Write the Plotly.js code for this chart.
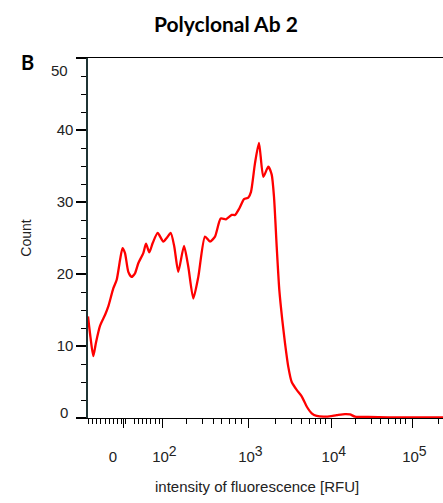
<!DOCTYPE html>
<html>
<head>
<meta charset="utf-8">
<script src="https://cdn.plot.ly/plotly-3.0.1.min.js"></script>
<style>html,body{margin:0;padding:0;background:#fff;}#chart{width:443px;height:503px;}</style>
</head>
<body>
<div id="chart"></div>
<script>
// Display channel on the (logicle-like) fluorescence axis, and cell count
const channel = [0, 2.5, 5.3, 8, 12, 17, 20.3, 25.3, 28.7, 32, 34.5, 37, 40.3, 43.5, 47, 50.3, 55.3, 58, 61.3, 64.7, 69.7, 75.3, 78.7, 82.7, 86.3, 90.3, 96, 100.3, 105.3, 110.3, 117, 122, 127, 132.7, 138, 143.7, 147, 151.3, 156, 160.3, 163, 167, 171, 175.3, 180.3, 183.7, 186, 188.7, 191.3, 194.3, 197, 200.3, 203.7, 208.7, 213.7, 218.7, 223.7, 228.7, 238.7, 248.7, 257, 262, 267, 280, 300, 355];
const count = [14.1, 11.2, 8.6, 10.5, 12.8, 14.3, 15.5, 18.0, 19.2, 21.9, 23.6, 22.9, 20.3, 19.6, 20.1, 21.5, 22.9, 24.2, 23.0, 24.3, 25.7, 24.5, 25.0, 25.7, 23.8, 20.3, 23.9, 21.0, 16.6, 19.6, 25.2, 24.5, 25.2, 27.7, 27.6, 28.2, 28.2, 29.1, 30.4, 30.6, 31.4, 35.4, 38.2, 33.5, 34.9, 33.8, 30.7, 23.8, 17.8, 13.6, 10.4, 7.1, 5.0, 3.9, 3.0, 1.6, 0.65, 0.28, 0.2, 0.4, 0.55, 0.5, 0.2, 0.15, 0.1, 0.1];

// Axis ticks
const xMajorVals = [35.3, 74.3, 160.3, 243.7, 324.3];
const supSpan = (d) => '&nbsp;10<sup><span style="font-size:14px">' + d + '</span></sup>';
const xMajorText = ['0&nbsp;&nbsp;&nbsp;&nbsp;&nbsp;', supSpan(2), supSpan(3), supSpan(4), supSpan(5)];
const xMinorVals = [0.3, 4.3, 8.7, 12.7, 17, 21, 25.3, 29.3, 33.7, 37.7, 46, 50.3, 54.3, 58.7, 62.7, 67, 71, 98.7, 114.3, 125, 133.7, 141, 147, 153.7, 187, 203, 213.7, 221, 227, 232, 237, 267.7, 283, 292, 300.3, 307, 312.7, 317.7, 350.3];
const yTickVals = [0, 10, 20, 30, 40, 50];
const yTickText = ['', '10', '20', '30', '40', ''];

const tickFont = {family: 'Liberation Sans, Arial, sans-serif', size: 15, color: '#222'};

const trace = {
  x: channel, y: count, type: 'scatter', mode: 'lines',
  line: {color: '#ff0000', width: 2.3, shape: 'spline', smoothing: 0.6},
  hoverinfo: 'skip', cliponaxis: true
};

const layout = {
  width: 443, height: 503,
  margin: {l: 88, r: 0, t: 58, b: 85},
  paper_bgcolor: '#fff', plot_bgcolor: '#fff',
  showlegend: false,
  title: {text: '<b>Polyclonal Ab 2</b>', x: 0.51, xanchor: 'center', y: 0.951, yanchor: 'middle',
          font: {family: 'Lato, Open Sans, sans-serif', size: 21, color: '#000'}},
  xaxis: {
    range: [0, 355], showgrid: false, zeroline: false,
    showline: true, linecolor: '#000', linewidth: 1, mirror: true,
    tickmode: 'array', tickvals: xMajorVals, ticktext: xMajorText,
    ticks: 'outside', ticklen: 9, tickwidth: 1.5, tickcolor: '#000',
    ticklabelstandoff: 16,
    minor: {tickmode: 'array', tickvals: xMinorVals, ticks: 'outside', ticklen: 5, tickwidth: 1, tickcolor: '#000', showgrid: false},
    tickfont: tickFont
  },
  yaxis: {
    range: [0, 50], showgrid: false, zeroline: false,
    showline: true, linecolor: '#1f3434', linewidth: 1.6, mirror: false,
    tickmode: 'array', tickvals: yTickVals, ticktext: yTickText,
    ticks: 'outside', ticklen: 10, tickwidth: 1.5, tickcolor: '#000',
    minor: {dtick: 2.5, ticks: 'outside', ticklen: 5, tickwidth: 1, tickcolor: '#000', showgrid: false},
    tickfont: tickFont,
    title: {text: 'Count', standoff: 22, font: {family: 'Liberation Sans, Arial, sans-serif', size: 14, color: '#222'}}
  },
  annotations: [
    {text: '<b>B</b>', xref: 'paper', yref: 'paper', x: -0.17, y: 0.99, xanchor: 'center', yanchor: 'middle', showarrow: false,
     font: {family: 'Lato, Open Sans, sans-serif', size: 20, color: '#000'}},
    {text: '50', xref: 'paper', yref: 'y', x: -0.05, y: 48.2, xanchor: 'right', yanchor: 'middle', showarrow: false, font: tickFont},
    {text: '0', xref: 'paper', yref: 'y', x: -0.05, y: 0.75, xanchor: 'right', yanchor: 'middle', showarrow: false, font: tickFont},
    {text: 'intensity of fluorescence [RFU]', xref: 'paper', yref: 'paper', x: 0.477, y: -0.19, xanchor: 'center', yanchor: 'middle', showarrow: false,
     font: {family: 'Liberation Sans, Arial, sans-serif', size: 15, color: '#222'}}
  ]
};

Plotly.newPlot('chart', [trace], layout, {displayModeBar: false, staticPlot: true});
</script>
</body>
</html>
